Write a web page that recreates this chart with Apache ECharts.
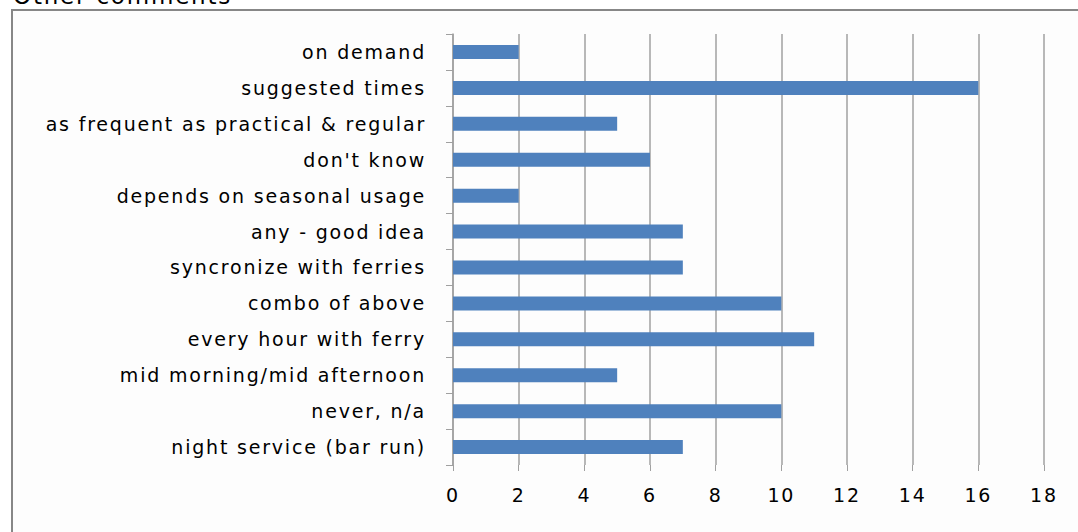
<!DOCTYPE html>
<html><head><meta charset="utf-8">
<script src="https://cdn.jsdelivr.net/npm/echarts@6/dist/echarts.min.js"></script>
<style>html,body{margin:0;padding:0;background:#fff}#c{width:1078px;height:532px}#c text{letter-spacing:1.8px}</style>
</head><body><div id="c"></div>
<script>
const categories = ["on demand","suggested times","as frequent as practical & regular","don't know","depends on seasonal usage","any - good idea","syncronize with ferries","combo of above","every hour with ferry","mid morning/mid afternoon","never, n/a","night service (bar run)"];
const values = [2,16,5,6,2,7,7,10,11,5,10,7];
const xTicks = [0,2,4,6,8,10,12,14,16,18];
const chart = echarts.init(document.getElementById('c'), null, {renderer:'svg'});
chart.setOption({
  animation:false,
  backgroundColor:'#fff',
  textStyle:{fontFamily:'DejaVu Sans'},
  graphic:[
    {type:'rect',shape:{x:12,y:10,width:1200,height:700},style:{fill:'#fdfdfd',stroke:'#878787',lineWidth:2},z:-10},
    {type:'text',x:13,y:7,style:{text:'Other comments',font:'23px "DejaVu Sans"',fill:'#000',verticalAlign:'bottom'}}
  ],
  grid:{left:453,right:34,top:34,bottom:67},
  xAxis:{type:'value',min:0,max:18,interval:2,
    axisLine:{show:false},
    axisTick:{show:true,length:6,lineStyle:{color:'#a0a0a0'}},
    splitLine:{show:true,lineStyle:{color:'#a0a0a0',width:1.5}},
    axisLabel:{fontSize:19,color:'#000',margin:20,fontFamily:'DejaVu Sans',formatter:v=>xTicks.includes(v)?String(v):''}},
  yAxis:{type:'category',data:categories,inverse:true,
    axisLine:{show:true,lineStyle:{color:'#a0a0a0',width:1.5}},
    axisTick:{show:true,length:7,lineStyle:{color:'#a0a0a0'}},
    axisLabel:{fontSize:19,color:'#000',margin:27,fontFamily:'DejaVu Sans'}},
  series:[{type:'bar',data:values,barWidth:14,itemStyle:{color:'#4f81bd'}}]
});
</script></body></html>
